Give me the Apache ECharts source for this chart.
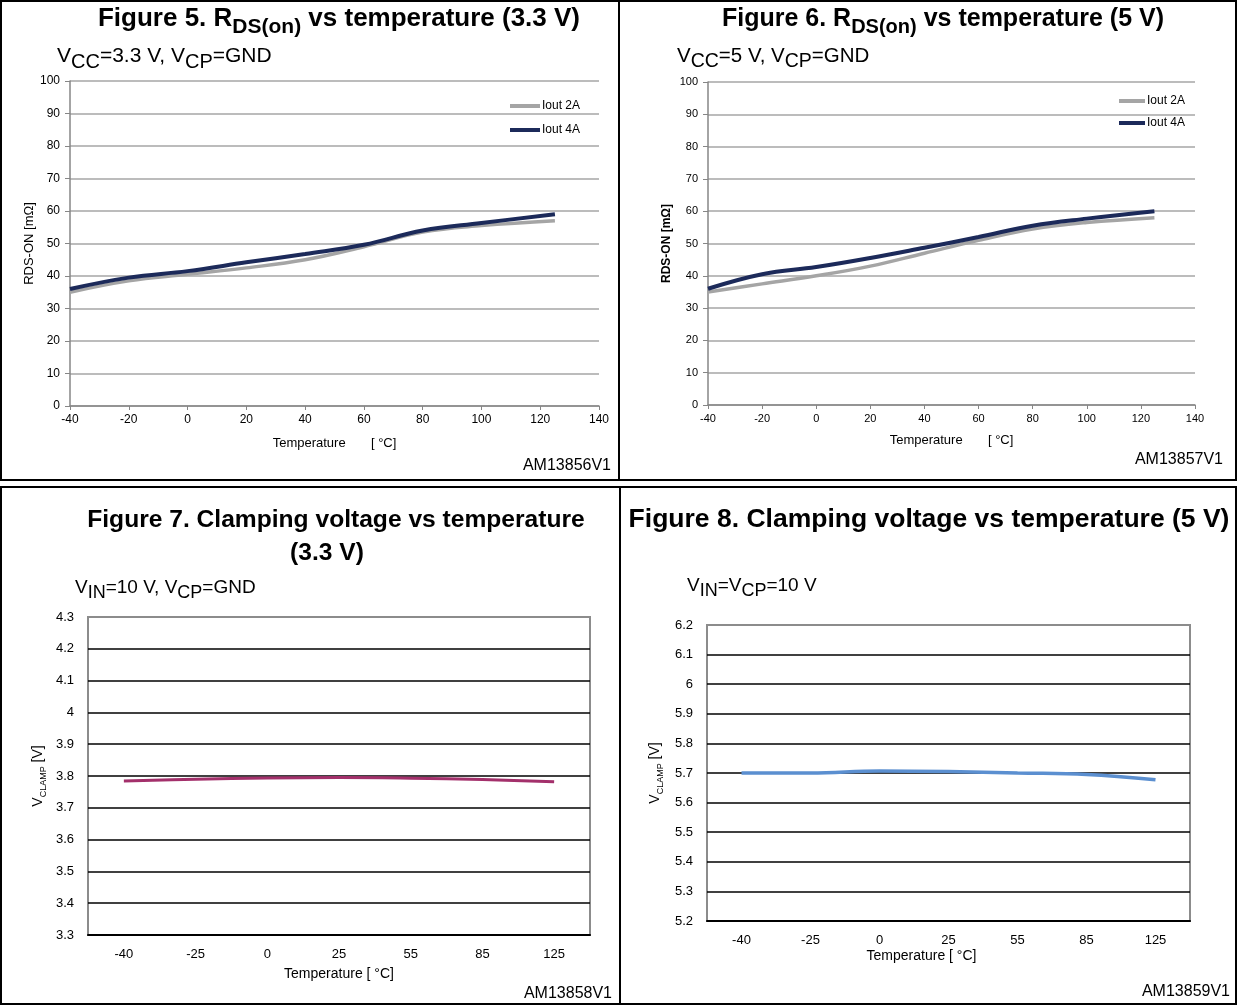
<!DOCTYPE html>
<html>
<head>
<meta charset="utf-8">
<script src="https://cdn.jsdelivr.net/npm/echarts@6/dist/echarts.min.js"></script>
<style>
html,body{margin:0;padding:0;background:#fff;}
#c{width:1237px;height:1006px;}
</style>
</head>
<body>
<div id="c"></div>
<script>
// ---- data ----
const temps = [-40, -20, 0, 20, 40, 60, 80, 100, 125];
const rds33_2A = [35, 38.5, 40.5, 42.5, 45, 49, 53.5, 55.5, 57];
const rds33_4A = [36, 39.5, 41.5, 44.2, 46.8, 49.6, 54, 56.3, 59];
const rds5_2A = [35, 37.5, 40, 43, 47, 51, 54.5, 56.5, 58];
const rds5_4A = [36, 40.5, 42.7, 45.5, 48.7, 52, 55.5, 57.7, 60];
const clampTemps = ['-40', '-25', '0', '25', '55', '85', '125'];
const vclamp33 = [3.784, 3.790, 3.794, 3.795, 3.793, 3.789, 3.782];
const vclamp5 = [5.700, 5.700, 5.707, 5.705, 5.700, 5.695, 5.677];
const rdsXTicks = [-40, 140, 20];
const rdsYTicks = [0, 100, 10];

const FF = '"Liberation Sans", Arial, Helvetica, sans-serif';
const pair = (xs, ys) => xs.map((x, i) => [x, ys[i]]);

function titleRich(size, subSize, shift) {
  return {
    b: {fontSize: size, fontWeight: 'bold', fontFamily: FF, color: '#000', verticalAlign: 'bottom', padding: [0, 0, shift, 0]},
    s: {fontSize: subSize, fontWeight: 'bold', fontFamily: FF, color: '#000', verticalAlign: 'bottom'}
  };
}
function subRich(size, subSize, shift) {
  return {
    n: {fontSize: size, fontFamily: FF, color: '#000', verticalAlign: 'bottom', padding: [0, 0, shift, 0]},
    s: {fontSize: subSize, fontFamily: FF, color: '#000', verticalAlign: 'bottom'}
  };
}
function txt(x, y, text, rich, align) {
  return {type: 'text', x: x, y: y, z: 10,
    style: {text: text, rich: rich, align: align || 'left', textAlign: align || 'left',
      verticalAlign: 'middle', textVerticalAlign: 'middle', fill: '#000', fontFamily: FF}};
}
function plain(x, y, text, size, align) {
  return {type: 'text', x: x, y: y, z: 10,
    style: {text: text, fontSize: size, fontFamily: FF, fill: '#000', align: align || 'left', textAlign: align || 'left',
      verticalAlign: 'middle', textVerticalAlign: 'middle'}};
}

const chart = echarts.init(document.getElementById('c'), null, {renderer: 'canvas'});

const rdsX = (gi, fs) => ({
  type: 'value', gridIndex: gi, min: rdsXTicks[0], max: rdsXTicks[1], interval: rdsXTicks[2],
  axisLine: {show: true, onZero: false, lineStyle: {color: '#868686', width: 1.5}},
  axisTick: {show: true, length: 4, lineStyle: {color: '#868686'}},
  axisLabel: {color: '#000', fontSize: fs, fontFamily: FF, margin: 8},
  splitLine: {show: false}
});
const rdsY = (gi, fs, nameStyle, gap) => ({
  type: 'value', gridIndex: gi, min: rdsYTicks[0], max: rdsYTicks[1], interval: rdsYTicks[2],
  name: 'RDS-ON [mΩ]', nameLocation: 'middle', nameGap: gap, nameRotate: 90,
  nameTextStyle: nameStyle,
  axisLine: {show: true, onZero: false, lineStyle: {color: '#868686', width: 1.5}},
  axisTick: {show: true, length: 5, lineStyle: {color: '#868686'}},
  axisLabel: {color: '#000', fontSize: fs, fontFamily: FF, margin: 10},
  splitLine: {show: true, lineStyle: {color: '#a6a6a6', width: 1.5}}
});
const clampX = (gi, gap, pad) => ({
  type: 'category', gridIndex: gi, data: clampTemps, boundaryGap: true,
  name: 'Temperature [ °C]', nameLocation: 'middle', nameGap: gap,
  nameTextStyle: {color: '#000', fontSize: 14, fontFamily: FF, padding: pad},
  axisLine: {show: true, lineStyle: {color: '#000', width: 2}},
  axisTick: {show: false},
  axisLabel: {color: '#000', fontSize: 13, fontFamily: FF, margin: 13},
  splitLine: {show: false}
});
const clampY = (gi, mn, mx, gap) => ({
  type: 'value', gridIndex: gi, min: mn, max: mx, interval: 0.1,
  name: '{v|V}{s|CLAMP}{v| [V]}', nameLocation: 'middle', nameGap: gap, nameRotate: 90,
  nameTextStyle: {rich: {
    v: {fontSize: 14, fontFamily: FF, color: '#000', verticalAlign: 'bottom', padding: [0, 0, 3, 0]},
    s: {fontSize: 9, fontFamily: FF, color: '#000', verticalAlign: 'bottom'}
  }},
  axisLine: {show: false},
  axisTick: {show: false},
  axisLabel: {color: '#000', fontSize: 13, fontFamily: FF, margin: 14},
  splitLine: {show: true, showMinLine: false, showMaxLine: false, lineStyle: {color: '#000', width: 1.5}}
});

const option = {
  animation: false,
  backgroundColor: '#fff',
  grid: [
    {left: 70, top: 81, width: 529, height: 325},
    {left: 708, top: 82, width: 487, height: 323},
    {left: 88, top: 617, width: 502, height: 318, show: true, borderColor: '#8c8c8c', borderWidth: 2},
    {left: 707, top: 625, width: 483, height: 296, show: true, borderColor: '#8c8c8c', borderWidth: 2}
  ],
  xAxis: [
    Object.assign(rdsX(0, 12), {name: 'Temperature       [ °C]', nameLocation: 'middle', nameGap: 31,
      nameTextStyle: {color: '#000', fontSize: 13, fontFamily: FF}}),
    Object.assign(rdsX(1, 11), {name: 'Temperature       [ °C]', nameLocation: 'middle', nameGap: 29,
      nameTextStyle: {color: '#000', fontSize: 13, fontFamily: FF}}),
    clampX(2, 32, 0),
    clampX(3, 28, [0, 54, 0, 0])
  ],
  yAxis: [
    rdsY(0, 12, {color: '#000', fontSize: 13, fontFamily: FF}, 33),
    rdsY(1, 11, {color: '#000', fontSize: 12, fontWeight: 'bold', fontFamily: FF}, 35),
    clampY(2, 3.3, 4.3, 40),
    clampY(3, 5.2, 6.2, 42)
  ],
  legend: [
    {left: 505, top: 95, orient: 'vertical', itemWidth: 30, itemHeight: 4, itemGap: 12,
      icon: 'rect', textStyle: {color: '#000', fontSize: 12, fontFamily: FF, padding: [0, 0, 0, -3]},
      data: ['Iout 2A', 'Iout 4A'], selectedMode: false},
    {left: 1114, top: 90, orient: 'vertical', itemWidth: 26, itemHeight: 4, itemGap: 10,
      icon: 'rect', textStyle: {color: '#000', fontSize: 12, fontFamily: FF, padding: [0, 0, 0, -3]},
      data: ['Iout 2A', 'Iout 4A'], selectedMode: false}
  ],
  series: [
    {type: 'line', name: 'Iout 2A', xAxisIndex: 0, yAxisIndex: 0, data: pair(temps, rds33_2A),
      smooth: 0.4, showSymbol: false, color: '#a5a5a5', lineStyle: {color: '#a5a5a5', width: 3.5}},
    {type: 'line', name: 'Iout 4A', xAxisIndex: 0, yAxisIndex: 0, data: pair(temps, rds33_4A),
      smooth: 0.4, showSymbol: false, color: '#1c2a5a', lineStyle: {color: '#1c2a5a', width: 4}},
    {type: 'line', name: 'Iout 2A', xAxisIndex: 1, yAxisIndex: 1, data: pair(temps, rds5_2A),
      smooth: 0.4, showSymbol: false, color: '#a5a5a5', lineStyle: {color: '#a5a5a5', width: 3.5}},
    {type: 'line', name: 'Iout 4A', xAxisIndex: 1, yAxisIndex: 1, data: pair(temps, rds5_4A),
      smooth: 0.4, showSymbol: false, color: '#1c2a5a', lineStyle: {color: '#1c2a5a', width: 4}},
    {type: 'line', name: 'VCLAMP 3.3V', xAxisIndex: 2, yAxisIndex: 2, data: vclamp33,
      smooth: 0.4, showSymbol: false, color: '#a3306b', lineStyle: {color: '#a3306b', width: 3}},
    {type: 'line', name: 'VCLAMP 5V', xAxisIndex: 3, yAxisIndex: 3, data: vclamp5,
      smooth: 0.4, showSymbol: false, color: '#5b8fd0', lineStyle: {color: '#5b8fd0', width: 3.5}}
  ],
  graphic: [
    {type: 'rect', z: 5, shape: {x: 1, y: 1, width: 1235, height: 479}, style: {fill: null, stroke: '#000', lineWidth: 2}},
    {type: 'line', z: 5, shape: {x1: 619, y1: 1, x2: 619, y2: 480}, style: {stroke: '#000', lineWidth: 2}},
    {type: 'rect', z: 5, shape: {x: 1, y: 487, width: 1235, height: 517}, style: {fill: null, stroke: '#000', lineWidth: 2}},
    {type: 'line', z: 5, shape: {x1: 620, y1: 487, x2: 620, y2: 1004}, style: {stroke: '#000', lineWidth: 2}},

    txt(339, 22, '{b|Figure 5. R}{s|DS(on)}{b| vs temperature (3.3 V)}', titleRich(26, 21, 6), 'center'),
    txt(943, 22, '{b|Figure 6. R}{s|DS(on)}{b| vs temperature (5 V)}', titleRich(25, 20, 6), 'center'),
    txt(336, 520, '{b|Figure 7. Clamping voltage vs temperature}', titleRich(24.6, 20, 0), 'center'),
    txt(327, 553, '{b|(3.3 V)}', titleRich(24.6, 20, 0), 'center'),
    txt(929, 520, '{b|Figure 8. Clamping voltage vs temperature (5 V)}', titleRich(26.5, 20, 0), 'center'),

    txt(57, 59, '{n|V}{s|CC}{n|=3.3 V, V}{s|CP}{n|=GND}', subRich(21, 20, 5), 'left'),
    txt(677, 59, '{n|V}{s|CC}{n|=5 V, V}{s|CP}{n|=GND}', subRich(20.5, 19.5, 5), 'left'),
    txt(75, 590, '{n|V}{s|IN}{n|=10 V, V}{s|CP}{n|=GND}', subRich(19, 18, 5), 'left'),
    txt(687, 588, '{n|V}{s|IN}{n|=V}{s|CP}{n|=10 V}', subRich(19, 18, 5), 'left'),

    plain(611, 466, 'AM13856V1', 16, 'right'),
    plain(1223, 460, 'AM13857V1', 16, 'right'),
    plain(612, 994, 'AM13858V1', 16, 'right'),
    plain(1230, 992, 'AM13859V1', 16, 'right')
  ]
};
chart.setOption(option);
</script>
</body>
</html>
